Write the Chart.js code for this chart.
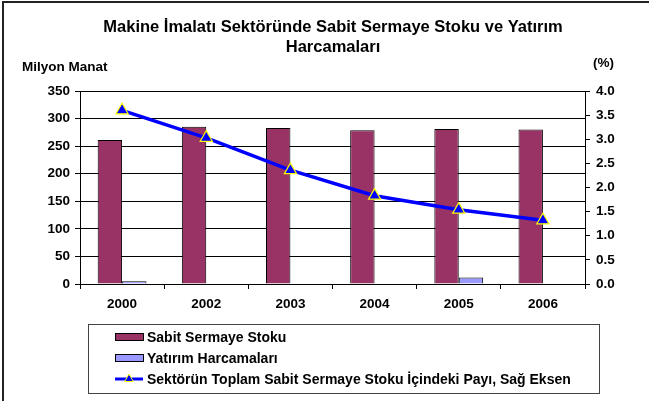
<!DOCTYPE html>
<html>
<head>
<meta charset="utf-8">
<script src="https://cdn.jsdelivr.net/npm/chart.js@4"></script>
<style>
  body { margin: 0; background: #fff; }
  canvas { display: block; }
</style>
</head>
<body>
<canvas id="chart" width="649" height="401"></canvas>
<script>
// chart data
const years = ['2000', '2002', '2003', '2004', '2005', '2006'];
const sabitStok = [261, 285, 283, 279, 281, 280];
const yatirimHarc = [5, 0, 0, 0, 12, 0];
const sektorPayi = [3.60, 3.03, 2.36, 1.83, 1.54, 1.32];

const seriesNames = [
  'Sabit Sermaye Stoku',
  'Yatırım Harcamaları',
  'Sektörün Toplam Sabit Sermaye Stoku İçindeki Payı, Sağ Eksen'
];
const titleLines = ['Makine İmalatı Sektöründe Sabit Sermaye Stoku ve Yatırım', 'Harcamaları'];
const leftAxisTitle = 'Milyon Manat';
const rightAxisTitle = '(%)';

const FONT = '"Liberation Sans", Arial, sans-serif';
Chart.defaults.font.family = FONT;
Chart.defaults.color = '#000';

const tickFont = { size: 13.5, weight: 'bold' };

// draws frame, titles and the boxed legend
const decorPlugin = {
  id: 'decor',
  afterDraw(chart) {
    const ctx = chart.ctx;
    ctx.save();

    // outer frame (top and left only, like the cropped original)
    ctx.strokeStyle = '#222';
    ctx.lineWidth = 2;
    ctx.beginPath();
    ctx.moveTo(3, 401);
    ctx.lineTo(3, 2);
    ctx.lineTo(649, 2);
    ctx.stroke();

    ctx.fillStyle = '#000';
    ctx.textBaseline = 'alphabetic';
    ctx.textAlign = 'center';
    ctx.font = 'bold 16.5px ' + FONT;
    ctx.fillText(titleLines[0], 333, 32);
    ctx.fillText(titleLines[1], 333, 52);

    ctx.font = 'bold 13.5px ' + FONT;
    ctx.textAlign = 'left';
    ctx.fillText(leftAxisTitle, 22, 71);
    ctx.fillText(rightAxisTitle, 593, 67);

    // legend box
    ctx.strokeStyle = '#444';
    ctx.lineWidth = 1;
    ctx.strokeRect(88.5, 324.5, 511, 69);

    const rows = [337, 358, 379];
    ctx.font = 'bold 14px ' + FONT;
    ctx.textBaseline = 'middle';
    chart.data.datasets.forEach((ds, i) => {
      const y = rows[i];
      if (ds.type === 'line') {
        ctx.strokeStyle = ds.borderColor;
        ctx.lineWidth = 3;
        ctx.beginPath();
        ctx.moveTo(115, y);
        ctx.lineTo(143, y);
        ctx.stroke();
        ctx.fillStyle = ds.pointBackgroundColor;
        ctx.strokeStyle = ds.pointBorderColor;
        ctx.lineWidth = 1;
        Chart.helpers.drawPoint(ctx, { pointStyle: 'triangle', radius: 5, borderWidth: 1, rotation: 0 }, 129, y);
      } else {
        ctx.fillStyle = ds.backgroundColor;
        ctx.fillRect(115, y - 3.5, 28, 7);
        ctx.strokeStyle = '#000';
        ctx.lineWidth = 1;
        ctx.strokeRect(115.5, y - 3.5, 28, 7);
      }
      ctx.fillStyle = '#000';
      ctx.fillText(ds.label, 147, y + 1);
    });

    ctx.restore();
  }
};

const ctx = document.getElementById('chart');
new Chart(ctx, {
  type: 'bar',
  data: {
    labels: years,
    datasets: [
      {
        label: seriesNames[0],
        data: sabitStok,
        backgroundColor: '#993366',
        borderColor: '#000',
        borderWidth: 1,
        yAxisID: 'y',
        order: 1,
        barPercentage: 1,
        categoryPercentage: 0.58
      },
      {
        label: seriesNames[1],
        data: yatirimHarc,
        backgroundColor: '#9999FF',
        borderColor: '#000',
        borderWidth: 1,
        yAxisID: 'y',
        order: 2,
        barPercentage: 1,
        categoryPercentage: 0.58
      },
      {
        type: 'line',
        label: seriesNames[2],
        data: sektorPayi,
        borderColor: '#0000FF',
        borderWidth: 3.5,
        pointStyle: 'triangle',
        pointRadius: 7,
        pointBackgroundColor: '#0000FF',
        pointBorderColor: '#FFFF00',
        pointBorderWidth: 1.2,
        tension: 0,
        yAxisID: 'y1',
        order: 0
      }
    ]
  },
  options: {
    responsive: false,
    animation: false,
    layout: { padding: { top: 91, left: 0, right: 0, bottom: 0 } },
    plugins: {
      legend: { display: false },
      title: { display: false },
      tooltip: { enabled: false }
    },
    scales: {
      x: {
        grid: { drawOnChartArea: false, drawTicks: true, tickLength: 5, color: '#000', offset: true },
        border: { color: '#000', width: 1 },
        ticks: { font: tickFont, color: '#000', padding: 7, maxRotation: 0 },
        afterFit(scale) { scale.height = 117; }
      },
      y: {
        position: 'left',
        min: 0,
        max: 350,
        ticks: { stepSize: 50, font: tickFont, color: '#000', padding: 5 },
        grid: { color: '#000', tickLength: 5 },
        border: { color: '#000', width: 1 },
        afterFit(scale) { scale.width = 80; }
      },
      y1: {
        position: 'right',
        min: 0,
        max: 4,
        ticks: { stepSize: 0.5, font: tickFont, color: '#000', padding: 6, callback: v => v.toFixed(1) },
        grid: { drawOnChartArea: false, color: '#000', tickLength: 5 },
        border: { color: '#000', width: 1 },
        afterFit(scale) { scale.width = 64; }
      }
    }
  },
  plugins: [decorPlugin]
});
</script>
</body>
</html>
